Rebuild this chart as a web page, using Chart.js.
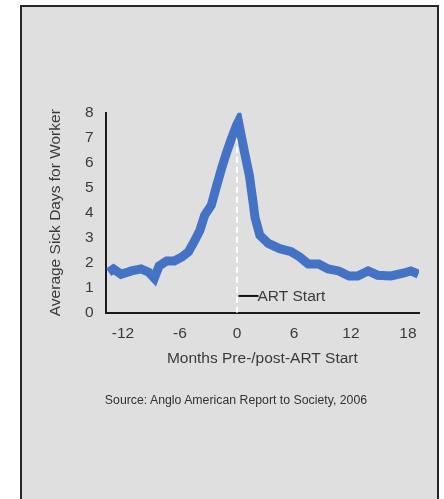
<!DOCTYPE html>
<html>
<head>
<meta charset="utf-8">
<script src="https://cdn.jsdelivr.net/npm/chart.js@4/dist/chart.umd.min.js"></script>
<style>
  html, body { margin: 0; padding: 0; background: #ffffff; width: 444px; height: 499px; overflow: hidden; }
  #panel { position: absolute; left: 20px; top: 5px; width: 415px; height: 520px; background: #dfdfdf; border: 2px solid #262626; }
  #wrap { position: absolute; left: 0; top: 0; width: 444px; height: 499px; }
  #source { position: absolute; left: 36px; width: 400px; top: 393px; text-align: center;
            font-family: "Liberation Sans", Arial, sans-serif; font-size: 12.3px; line-height: 14px; color: #333333; }
</style>
</head>
<body>
<div id="panel"></div>
<div id="wrap"><canvas id="chart" width="444" height="499"></canvas></div>
<div id="source">Source: Anglo American Report to Society, 2006</div>
<script>
// Months relative to the start of antiretroviral therapy
const months = [-13.5, -13.0, -12.2, -11.1, -10.1, -9.3, -8.7, -8.2, -7.4, -6.6, -5.8, -5.1, -4.5, -3.9, -3.4, -2.7, -2.2, -1.6, -1.1, -0.6, -0.05, 0.15, 0.8, 1.3, 1.7, 1.9, 2.4, 3.3, 4.5, 5.7, 6.6, 7.5, 8.6, 9.6, 10.7, 11.8, 12.7, 13.8, 14.8, 16.2, 17.5, 18.3, 19.1];
// Average sick days per worker at each month
const sickDays = [1.62, 1.75, 1.54, 1.67, 1.75, 1.62, 1.38, 1.87, 2.07, 2.07, 2.23, 2.44, 2.85, 3.3, 3.9, 4.3, 5.0, 5.8, 6.4, 6.95, 7.5, 7.65, 6.4, 5.5, 4.4, 3.8, 3.1, 2.77, 2.56, 2.44, 2.23, 1.95, 1.95, 1.75, 1.67, 1.47, 1.47, 1.67, 1.5, 1.47, 1.58, 1.67, 1.54];
// ART start marker: month and the height the dashed guide reaches
const artStartMonth = [0, 0];
const artStartLevel = [0, 7];
const artStartLabel = 'ART Start';
const artLabelLevel = 0.67;

const xTicks = [-12, -6, 0, 6, 12, 18];
const yTicks = [0, 1, 2, 3, 4, 5, 6, 7, 8];
const xTitle = 'Months Pre-/post-ART Start';
const yTitle = 'Average Sick Days for Worker';

const FONT = '"Liberation Sans", Arial, sans-serif';
const TEXT = '#3a3a3a';

const artLabelPlugin = {
  id: 'artLabel',
  afterDatasetsDraw(chart) {
    const { ctx, scales } = chart;
    const x0 = scales.x.getPixelForValue(artStartMonth[0]) + 1.5;
    const y0 = scales.y.getPixelForValue(artLabelLevel);
    ctx.save();
    ctx.strokeStyle = '#111111';
    ctx.lineWidth = 2;
    ctx.beginPath();
    ctx.moveTo(x0, y0);
    ctx.lineTo(x0 + 20, y0);
    ctx.stroke();
    ctx.fillStyle = TEXT;
    ctx.font = '15.5px ' + FONT;
    ctx.textBaseline = 'middle';
    ctx.textAlign = 'left';
    ctx.fillText(artStartLabel, x0 + 19, y0 + 0.5);
    ctx.restore();
  }
};

new Chart(document.getElementById('chart'), {
  type: 'line',
  data: {
    datasets: [
      {
        label: 'Sick days',
        data: months.map((m, i) => ({ x: m, y: sickDays[i] })),
        borderColor: '#4472c4',
        borderWidth: 9,
        pointRadius: 0,
        tension: 0,
        fill: false
      },
      {
        label: artStartLabel,
        data: artStartMonth.map((m, i) => ({ x: m, y: artStartLevel[i] })),
        borderColor: '#ffffff',
        borderWidth: 2,
        borderDash: [6, 4],
        pointRadius: 0,
        fill: false
      }
    ]
  },
  options: {
    responsive: false,
    animation: false,
    events: [],
    layout: { padding: { left: 46.6, top: 112.7, right: 25, bottom: 131 } },
    plugins: { legend: { display: false }, tooltip: { enabled: false } },
    scales: {
      x: {
        type: 'linear',
        min: -13.82,
        max: 19.16,
        grid: { display: false, drawTicks: false },
        border: { display: true, color: '#1a1a1a', width: 2 },
        afterBuildTicks: s => { s.ticks = xTicks.map(v => ({ value: v })); },
        afterFit: s => { s.height = 55.3; },
        ticks: { padding: 12, color: TEXT, font: { family: FONT, size: 15.5 }, maxRotation: 0 },
        title: { display: true, text: xTitle, color: TEXT, padding: 0, font: { family: FONT, size: 15.5 } }
      },
      y: {
        min: 0,
        max: 8,
        grid: { display: false, drawTicks: false },
        border: { display: true, color: '#1a1a1a', width: 2 },
        afterBuildTicks: s => { s.ticks = yTicks.map(v => ({ value: v })); },
        afterFit: s => { s.width = 59.1; },
        ticks: { padding: 12, color: TEXT, font: { family: FONT, size: 15.5 } },
        title: { display: true, text: yTitle, color: TEXT, padding: 0, font: { family: FONT, size: 15.5 } }
      }
    }
  },
  plugins: [artLabelPlugin]
});
</script>
</body>
</html>
